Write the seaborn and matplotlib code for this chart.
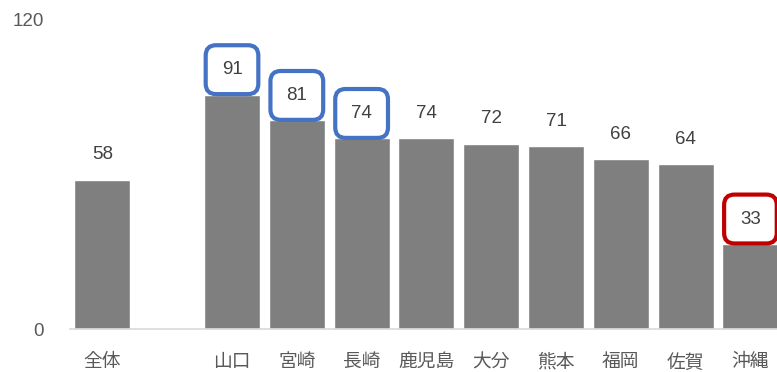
import numpy as np
import pandas as pd
import matplotlib
matplotlib.use("Agg")
import matplotlib.pyplot as plt
import seaborn as sns

categories = ["全体", "", "山口", "宮崎", "長崎", "鹿児島", "大分", "熊本", "福岡", "佐賀", "沖縄"]
values = [58, np.nan, 91, 81, 74, 74, 72, 71, 66, 64, 33]
highlight_blue = ["山口", "宮崎", "長崎"]
highlight_red = ["沖縄"]
yticks = [0, 120]

sns.set_style("white")
plt.rcParams["font.family"] = ["Liberation Sans", "Noto Sans CJK JP", "DejaVu Sans"]

df = pd.DataFrame({"cat": categories, "val": values})

fig = plt.figure(figsize=(7.77, 3.72), dpi=100)
ax = fig.add_axes([70 / 777, 43 / 372, 1 - 70 / 777, (329 - 20) / 372])

sns.barplot(data=df, x="cat", y="val", order=categories, color="#7f7f7f",
            saturation=1, width=0.865, errorbar=None, ax=ax)

ax.set_xlim(-0.5, 10.41)
ax.set_ylim(0, 120)
ax.set_yticks(yticks)
ax.set_yticklabels([str(t) for t in yticks])
ax.set_xlabel("")
ax.set_ylabel("")
for s in ["top", "right", "left"]:
    ax.spines[s].set_visible(False)
ax.spines["bottom"].set_color("#d9d9d9")
ax.spines["bottom"].set_linewidth(1.2)
ax.tick_params(axis="both", length=0, colors="#595959")
ax.tick_params(axis="y", labelsize=13.5, pad=19)
ax.tick_params(axis="x", labelsize=13.5, pad=18)

for i, (c, v) in enumerate(zip(categories, values)):
    if c == "" or np.isnan(v):
        continue
    bbox = None
    if c in highlight_blue:
        bbox = dict(boxstyle="round,pad=0.85,rounding_size=0.55", fc="white", ec="#4472C4", lw=3)
    elif c in highlight_red:
        bbox = dict(boxstyle="round,pad=0.85,rounding_size=0.55", fc="white", ec="#C00000", lw=3)
    ax.annotate(f"{v:g}", xy=(i, v), xytext=(0, 18), textcoords="offset points",
                ha="center", va="center", fontsize=13.5, color="#404040",
                bbox=bbox, annotation_clip=False, clip_on=False)

fig.savefig("out.png", dpi=100)
